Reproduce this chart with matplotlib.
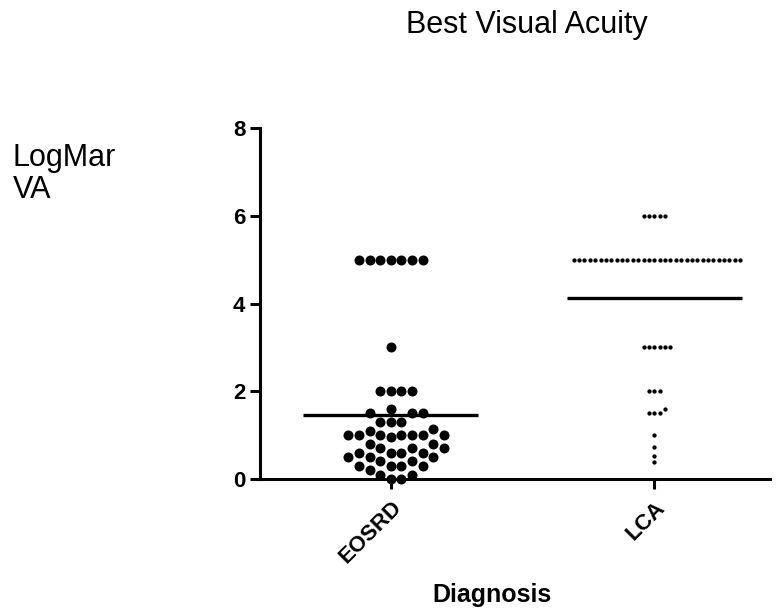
import numpy as np
import matplotlib
matplotlib.use("Agg")
import matplotlib.pyplot as plt

plt.rcParams['font.family'] = ['Liberation Sans', 'DejaVu Sans']

# LogMAR best visual acuity per patient
categories = ['EOSRD', 'LCA']
eosrd_va = [5.0, 5.0, 5.0, 5.0, 5.0, 5.0, 5.0,
            3.0,
            2.0, 2.0, 2.0, 2.0,
            1.6, 1.5, 1.5, 1.5,
            1.3, 1.3, 1.3,
            1.15, 1.1,
            1.0, 1.0, 1.0, 1.0, 1.0, 1.0, 1.0, 0.95,
            0.8, 0.8,
            0.7, 0.7, 0.7,
            0.6, 0.6, 0.6, 0.6,
            0.5, 0.5, 0.5,
            0.4, 0.4,
            0.3, 0.3, 0.3, 0.3,
            0.2,
            0.1, 0.1,
            0.0, 0.0]
lca_va = [6.0, 6.0, 6.0, 6.0, 6.0,
          5.0, 5.0, 5.0, 5.0, 5.0, 5.0, 5.0, 5.0, 5.0, 5.0, 5.0, 5.0, 5.0, 5.0, 5.0, 5.0,
          5.0, 5.0, 5.0, 5.0, 5.0, 5.0, 5.0, 5.0, 5.0, 5.0, 5.0, 5.0, 5.0, 5.0, 5.0, 5.0,
          3.0, 3.0, 3.0, 3.0, 3.0, 3.0,
          2.0, 2.0, 2.0,
          1.6, 1.5, 1.5, 1.5,
          1.0, 0.74, 0.52, 0.38]
groups = [eosrd_va, lca_va]
y_ticks = [0, 2, 4, 6, 8]


def swarm_x(ax, x0, values, step_px):
    """Spread points sideways on a grid so dots don't overlap (pixel space)."""
    values = np.asarray(values, dtype=float)
    pts = ax.transData.transform(np.column_stack([np.full(len(values), x0), values]))
    ys = pts[:, 1]
    px_per_unit = ax.transData.transform((1, 0))[0] - ax.transData.transform((0, 0))[0]
    order = np.argsort(values, kind='stable')
    placed = []
    cols = np.zeros(len(values))
    for i in order:
        k = 0
        n = 0
        while True:
            ok = all(((k - c) * step_px) ** 2 + (ys[i] - py) ** 2 >= (step_px * 0.98) ** 2
                     for c, py in placed)
            if ok:
                break
            n += 1
            k = (n + 1) // 2 if n % 2 else -(n // 2)
        placed.append((k, ys[i]))
        cols[i] = k
    return x0 + cols * step_px / px_per_unit


fig = plt.figure(figsize=(7.78, 6.11), dpi=100)
ax = fig.add_axes([0.3342, 0.2160, 0.6555, 0.5741])
ax.set_xlim(-0.496, 1.439)
ax.set_ylim(0, 8)

dot_px = [10.0, 4.3]
step_px = [10.6, 5.37]
for i, vals in enumerate(groups):
    xs = swarm_x(ax, i, vals, step_px[i])
    ax.scatter(xs, vals, s=(dot_px[i] * 0.72) ** 2, color='black',
               linewidths=0, zorder=3, clip_on=False)
    ax.hlines(np.mean(vals), i - 0.332, i + 0.332, color='black', lw=2.4, zorder=4)

for side in ['top', 'right']:
    ax.spines[side].set_visible(False)
for side in ['left', 'bottom']:
    ax.spines[side].set_linewidth(2.2)

ax.set_yticks(y_ticks)
ax.set_yticklabels([str(t) for t in y_ticks], fontsize=16, fontweight='bold')
ax.set_xticks(range(len(categories)))
ax.set_xticklabels(categories, fontsize=16, fontweight='bold', rotation=45,
                   ha='right', va='top', rotation_mode='anchor')
ax.tick_params(axis='both', length=7, width=2.2, direction='out')
ax.tick_params(axis='y', pad=3.5)
ax.tick_params(axis='x', pad=6)

fig.text(0.677, 0.946, 'Best Visual Acuity', fontsize=22, ha='center', va='baseline')
# baseline of the last line ("VA")
fig.text(0.0167, 0.676, 'LogMar\nVA', fontsize=22, ha='left', va='baseline',
         linespacing=1.1)
fig.text(0.633, 0.0147, 'Diagnosis', fontsize=18, fontweight='bold',
         ha='center', va='baseline')

fig.savefig('out.png', dpi=100)
